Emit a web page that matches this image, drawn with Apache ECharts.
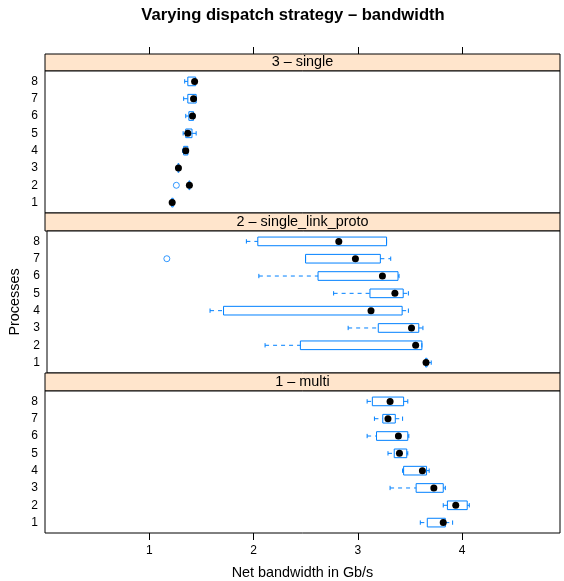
<!DOCTYPE html>
<html>
<head>
<meta charset="utf-8">
<script src="https://cdn.jsdelivr.net/npm/echarts@6/dist/echarts.min.js"></script>
<style>
  html, body { margin: 0; padding: 0; background: #fff; }
  #chart { width: 564px; height: 581px; }
</style>
</head>
<body>
<div id="chart"></div>
<script>
const processes = [1, 2, 3, 4, 5, 6, 7, 8];
const panelNames = ["3 – single", "2 – single_link_proto", "1 – multi"];
const xTicks = [1, 2, 3, 4];

// per process 1..8: lower whisker, Q1, median, Q3, upper whisker (Gb/s)
const singleStats = [
  [1.21, 1.215, 1.22, 1.23, 1.235],
  [1.375, 1.38, 1.385, 1.39, 1.395],
  [1.27, 1.275, 1.28, 1.285, 1.29],
  [1.32, 1.33, 1.35, 1.37, 1.37],
  [1.325, 1.35, 1.37, 1.41, 1.45],
  [1.35, 1.38, 1.415, 1.425, 1.43],
  [1.33, 1.37, 1.425, 1.45, 1.45],
  [1.34, 1.37, 1.435, 1.445, 1.445]
];
const protoStats = [
  [3.64, 3.645, 3.65, 3.66, 3.70],
  [2.10, 2.44, 3.55, 3.61, 3.61],
  [2.90, 3.19, 3.51, 3.58, 3.62],
  [1.57, 1.70, 3.12, 3.42, 3.48],
  [2.76, 3.11, 3.35, 3.43, 3.48],
  [2.04, 2.61, 3.23, 3.38, 3.39],
  [2.49, 2.49, 2.97, 3.21, 3.31],
  [1.92, 2.03, 2.81, 3.27, 3.27]
];
const multiStats = [
  [3.60, 3.667, 3.82, 3.84, 3.91],
  [3.82, 3.86, 3.94, 4.05, 4.07],
  [3.31, 3.56, 3.73, 3.82, 3.84],
  [3.43, 3.44, 3.62, 3.66, 3.685],
  [3.29, 3.35, 3.40, 3.47, 3.48],
  [3.09, 3.18, 3.39, 3.48, 3.49],
  [3.16, 3.24, 3.29, 3.36, 3.43],
  [3.09, 3.14, 3.31, 3.44, 3.48]
];
// [value, process]
const singleOutliers = [[1.26, 2]];
const protoOutliers = [[1.154, 7]];
const multiOutliers = [];

const blue = "#0080ff";
const fontFamily = "'Liberation Sans', Arial, Helvetica, sans-serif";
const xMin = 0, xMax = 4.94;

function renderBox(params, api) {
  const y = api.value(0);
  const pt = (i) => api.coord([api.value(i), y]);
  const lw = pt(1), q1 = pt(2), med = pt(3), q3 = pt(4), uw = pt(5);
  const h = api.size([0, 0.5])[1];
  const cap = h / 4;
  const dashed = { stroke: blue, lineWidth: 1, lineDash: [4, 4], fill: null };
  const solid = { stroke: blue, lineWidth: 1, fill: null };
  return {
    type: "group",
    children: [
      { type: "line", shape: { x1: lw[0], y1: lw[1], x2: q1[0], y2: q1[1] }, style: dashed },
      { type: "line", shape: { x1: q3[0], y1: q3[1], x2: uw[0], y2: uw[1] }, style: dashed },
      { type: "line", shape: { x1: lw[0], y1: lw[1] - cap, x2: lw[0], y2: lw[1] + cap }, style: solid },
      { type: "line", shape: { x1: uw[0], y1: uw[1] - cap, x2: uw[0], y2: uw[1] + cap }, style: solid },
      { type: "rect", shape: { x: q1[0], y: q1[1] - h / 2, width: q3[0] - q1[0], height: h }, style: solid },
      { type: "circle", shape: { cx: med[0], cy: med[1], r: 3.5 }, style: { fill: "#000" } }
    ]
  };
}

const panels = [
  { stats: singleStats, outliers: singleOutliers },
  { stats: protoStats, outliers: protoOutliers },
  { stats: multiStats, outliers: multiOutliers }
];

const gridBase = { left: 45, right: 4, show: true, borderColor: "#000", borderWidth: 1 };
const stripTops = [54, 213, 373];
const stripHeights = [17, 18, 18];
const panelTops = [71, 231, 391];
const panelHeight = 142;

const grid = [], xAxis = [], yAxis = [], series = [], graphic = [];

panels.forEach((p, k) => {
  const stripIdx = grid.length;
  grid.push(Object.assign({}, gridBase, { top: stripTops[k], height: stripHeights[k], backgroundColor: "#ffe5cc" }));
  xAxis.push(k === 0 ? {
    gridIndex: stripIdx, type: "value", min: xMin, max: xMax, position: "top",
    axisLine: { show: false, onZero: false },
    axisTick: { show: true, length: 7, customValues: xTicks, lineStyle: { color: "#000" } },
    axisLabel: { show: false }, splitLine: { show: false }
  } : { gridIndex: stripIdx, type: "value", min: xMin, max: xMax, show: false });
  yAxis.push({ gridIndex: stripIdx, type: "value", min: 0, max: 1, show: false });

  const panelIdx = grid.length;
  grid.push(Object.assign({}, gridBase, { top: panelTops[k], height: panelHeight, backgroundColor: "#fff" }));
  const isBottom = k === panels.length - 1;
  xAxis.push(isBottom ? {
    gridIndex: panelIdx, type: "value", min: xMin, max: xMax, position: "bottom",
    axisLine: { show: false, onZero: false },
    axisTick: { show: true, length: 7, customValues: xTicks, lineStyle: { color: "#000" } },
    axisLabel: { customValues: xTicks, fontSize: 12, color: "#000", margin: 12, fontFamily },
    splitLine: { show: false },
    name: "Net bandwidth in Gb/s", nameLocation: "middle", nameGap: 33,
    nameTextStyle: { fontSize: 14.4, color: "#000", fontFamily }
  } : { gridIndex: panelIdx, type: "value", min: xMin, max: xMax, show: false });
  yAxis.push(Object.assign({
    gridIndex: panelIdx, type: "value", min: 0.4, max: 8.6,
    axisLine: { show: false }, axisTick: { show: false }, splitLine: { show: false },
    axisLabel: { customValues: processes, fontSize: 12, color: "#000", margin: 7, fontFamily }
  }, k === 1 ? {
    name: "Processes", nameLocation: "middle", nameGap: 25, nameRotate: 90,
    nameTextStyle: { fontSize: 14.4, color: "#000", fontFamily }
  } : {}));

  series.push({
    type: "custom",
    xAxisIndex: panelIdx, yAxisIndex: panelIdx,
    renderItem: renderBox,
    encode: { x: [1, 2, 3, 4, 5], y: 0 },
    data: processes.map((n, i) => [n].concat(p.stats[i])),
    z: 3
  });
  series.push({
    type: "scatter",
    xAxisIndex: panelIdx, yAxisIndex: panelIdx,
    symbol: "circle", symbolSize: 6,
    itemStyle: { color: "rgba(0,0,0,0)", borderColor: blue, borderWidth: 1 },
    data: p.outliers,
    z: 3
  });

  graphic.push({
    type: "text", z: 100,
    x: 302.5, y: stripTops[k] + stripHeights[k] / 2,
    style: {
      text: panelNames[k], textAlign: "center", textVerticalAlign: "middle",
      font: "14.4px " + fontFamily, fill: "#000"
    }
  });
});

const chart = echarts.init(document.getElementById("chart"));
chart.setOption({
  animation: false,
  backgroundColor: "#fff",
  title: {
    text: "Varying dispatch strategy – bandwidth",
    left: 293, top: 7, textAlign: "center", padding: 0,
    textStyle: { fontSize: 16.6, fontWeight: "bold", color: "#000", fontFamily }
  },
  grid, xAxis, yAxis, series, graphic
});
</script>
</body>
</html>
